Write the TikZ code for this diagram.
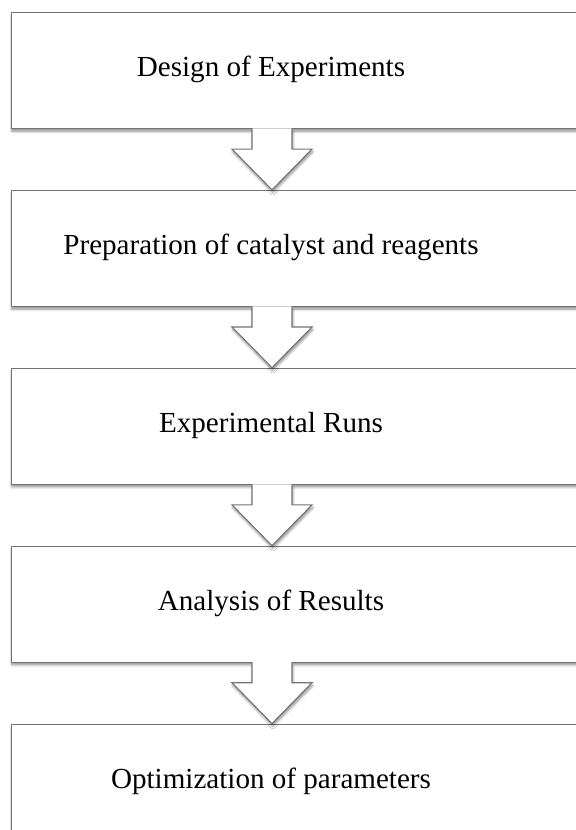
\documentclass[tikz,border=0pt]{standalone}
\usepackage{fontspec}
\setmainfont{Liberation Serif}
\usetikzlibrary{positioning,calc,shadows.blur}
\tikzset{
  softshadow/.style={blur shadow={shadow xshift=0.4bp, shadow yshift=-1.3bp, shadow blur radius=1.3bp, shadow blur steps=5, shadow opacity=45}},
  stage/.style={draw=black!55, fill=white, line width=0.55pt, minimum width=300bp, minimum height=58bp,
                inner sep=0pt, softshadow},
  stagetext/.style={font=\fontsize{14.6}{17}\selectfont, inner sep=0pt},
  bigarrow/.style={draw=black!55, fill=white, line width=0.55pt, line join=miter, softshadow},
}

\begin{document}
\begin{tikzpicture}[node distance=30.4bp]
  \useasboundingbox (0,0) rectangle (288bp,-415bp);
  \clip (0,0) rectangle (288bp,-415bp);
  \node[stage, anchor=north west] (b1) at (5.25bp,-6bp) {};
  \node[stage, below=of b1] (b2) {};
  \node[stage, below=of b2] (b3) {};
  \node[stage, below=of b3] (b4) {};
  \node[stage, below=of b4] (b5) {};
  \node[stagetext] (t1) at ($(b1.west)+(130.25bp,0.5bp)$) {Design of Experiments};
  \node[stagetext] (t2) at ($(b2.west)+(130.25bp,0.5bp)$) {Preparation of catalyst and reagents};
  \node[stagetext] (t3) at ($(b3.west)+(130.25bp,0.5bp)$) {Experimental Runs};
  \node[stagetext] (t4) at ($(b4.west)+(130.25bp,0.5bp)$) {Analysis of Results};
  \node[stagetext] (t5) at ($(b5.west)+(130.25bp,0.5bp)$) {Optimization of parameters};
  \foreach \a/\b in {b1/b2,b2/b3,b3/b4,b4/b5} {
    \coordinate (top) at ($(\a.south west)+(130.75bp,0)$);
    \coordinate (tip) at (top |- \b.north);
    \draw[bigarrow] ($(top)+(-10bp,0.3bp)$) -- ++(0,-10.3bp) -- ++(-10bp,0) -- (tip)
      -- ($(top)+(20bp,-10bp)$) -- ++(-10bp,0) -- ++(0,10.3bp);
  }
\end{tikzpicture}
\end{document}
